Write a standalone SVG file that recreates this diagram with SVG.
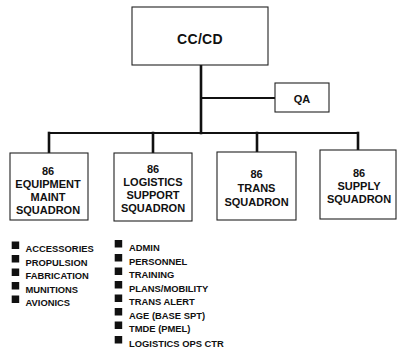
<svg xmlns="http://www.w3.org/2000/svg" width="397" height="352" viewBox="0 0 397 352">
<style>
.box{fill:#fff;stroke:#222;stroke-width:1.1}
.conn{stroke:#111;fill:none;stroke-linecap:square}
.t{font-family:"Liberation Sans",Arial,sans-serif;font-weight:bold;fill:#111;text-anchor:middle}
.lt{font-family:"Liberation Sans",Arial,sans-serif;font-weight:bold;fill:#111;font-size:9.4px}
.sq{fill:#111}
</style>
<rect width="397" height="352" fill="#fff"/>
<g id="connectors">
<line class="conn" x1="201" y1="65" x2="201" y2="133" stroke-width="2.6"/>
<line class="conn" x1="201" y1="98" x2="275" y2="98" stroke-width="2"/>
<line class="conn" x1="49" y1="133" x2="358" y2="133" stroke-width="2"/>
<line class="conn" x1="49" y1="133" x2="49" y2="153" stroke-width="2.6"/>
<line class="conn" x1="153" y1="133" x2="153" y2="153" stroke-width="2.6"/>
<line class="conn" x1="257" y1="133" x2="257" y2="152" stroke-width="2.6"/>
<line class="conn" x1="358" y1="133" x2="358" y2="150" stroke-width="2.6"/>
</g>
<g id="cccd">
<rect class="box" x="132" y="7" width="136" height="58"/>
<text class="t" x="200" y="44" font-size="14" letter-spacing="0.3">CC/CD</text>
</g>
<g id="qa">
<rect class="box" x="275" y="83" width="54" height="29"/>
<text class="t" x="302" y="103" font-size="11">QA</text>
</g>
<g id="equipment">
<rect class="box" x="10" y="153" width="78" height="67"/>
<text class="t" x="48" font-size="11"><tspan x="48" y="175">86</tspan><tspan x="48" y="188">EQUIPMENT</tspan><tspan x="48" y="201">MAINT</tspan><tspan x="48" y="214">SQUADRON</tspan></text>
</g>
<g id="logistics">
<rect class="box" x="114" y="153" width="78" height="68"/>
<text class="t" x="153" font-size="11"><tspan x="153" y="173">86</tspan><tspan x="153" y="186">LOGISTICS</tspan><tspan x="153" y="199">SUPPORT</tspan><tspan x="153" y="212">SQUADRON</tspan></text>
</g>
<g id="trans">
<rect class="box" x="217" y="152" width="79" height="68"/>
<text class="t" x="256.5" font-size="11"><tspan x="256.5" y="178">86</tspan><tspan x="256.5" y="192">TRANS</tspan><tspan x="256.5" y="206">SQUADRON</tspan></text>
</g>
<g id="supply">
<rect class="box" x="320" y="150" width="76" height="69"/>
<text class="t" x="359" font-size="11"><tspan x="359" y="177">86</tspan><tspan x="359" y="190">SUPPLY</tspan><tspan x="359" y="203">SQUADRON</tspan></text>
</g>
<g id="list-equipment">
<rect class="sq" x="11.7" y="241.5" width="7.5" height="7.5"/><text class="lt" x="25.5" y="252">ACCESSORIES</text>
<rect class="sq" x="11.7" y="255" width="7.5" height="7.5"/><text class="lt" x="25.5" y="265.5">PROPULSION</text>
<rect class="sq" x="11.7" y="268.5" width="7.5" height="7.5"/><text class="lt" x="25.5" y="279">FABRICATION</text>
<rect class="sq" x="11.7" y="282" width="7.5" height="7.5"/><text class="lt" x="25.5" y="292.5">MUNITIONS</text>
<rect class="sq" x="11.7" y="295.5" width="7.5" height="7.5"/><text class="lt" x="25.5" y="306">AVIONICS</text>
</g>
<g id="list-logistics">
<rect class="sq" x="114.7" y="240" width="7.5" height="7.5"/><text class="lt" x="129" y="250.5">ADMIN</text>
<rect class="sq" x="114.7" y="254" width="7.5" height="7.5"/><text class="lt" x="129" y="264.5">PERSONNEL</text>
<rect class="sq" x="114.7" y="267.5" width="7.5" height="7.5"/><text class="lt" x="129" y="278">TRAINING</text>
<rect class="sq" x="114.7" y="281" width="7.5" height="7.5"/><text class="lt" x="129" y="291.5">PLANS/MOBILITY</text>
<rect class="sq" x="114.7" y="294.5" width="7.5" height="7.5"/><text class="lt" x="129" y="305">TRANS ALERT</text>
<rect class="sq" x="114.7" y="308" width="7.5" height="7.5"/><text class="lt" x="129" y="318.5">AGE (BASE SPT)</text>
<rect class="sq" x="114.7" y="321.5" width="7.5" height="7.5"/><text class="lt" x="129" y="332">TMDE (PMEL)</text>
<rect class="sq" x="114.7" y="336" width="7.5" height="7.5"/><text class="lt" x="129" y="346.5">LOGISTICS OPS CTR</text>
</g>
</svg>
